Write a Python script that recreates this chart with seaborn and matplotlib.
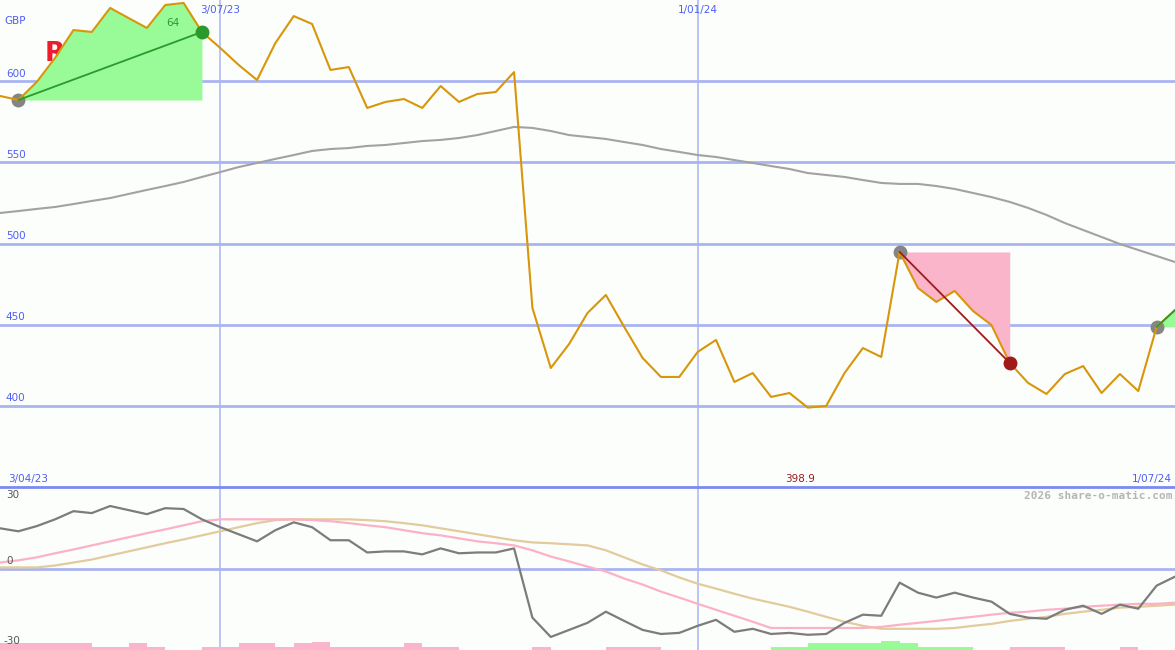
import numpy as np
import pandas as pd
import seaborn as sns
import matplotlib.pyplot as plt

# weekly closes, GBP
weeks = pd.date_range('2023-04-10', periods=65, freq='7D')
price = [590.9, 588.4, 599.5, 614.3, 631.5, 630.3, 645.1, 638.9, 632.8, 646.9,
         648.2, 630.3, 620.4, 610.0, 600.7, 623.5, 640.1, 635.2, 606.9, 608.7,
         583.5, 587.2, 589.0, 583.5, 597.0, 587.2, 592.1, 593.3, 605.6, 460.3,
         423.3, 438.1, 457.2, 468.3, 448.6, 429.5, 417.8, 417.8, 433.2, 440.6,
         414.7, 420.2, 405.5, 407.9, 398.9, 399.9, 420.2, 435.6, 430.1, 494.8,
         472.6, 464.0, 470.8, 458.4, 449.8, 426.4, 414.1, 407.3, 419.6, 424.5,
         407.9, 419.6, 409.1, 448.6, 459.0]
avg_line = [518.8, 520.0, 521.3, 522.5, 524.3, 526.2, 528.0, 530.5, 533.0, 535.4,
            537.9, 541.0, 544.0, 547.1, 549.6, 552.1, 554.5, 557.0, 558.2, 558.8,
            560.1, 560.7, 561.9, 563.1, 563.8, 565.0, 566.8, 569.3, 571.8, 571.2,
            569.3, 566.8, 565.6, 564.4, 562.5, 560.7, 558.2, 556.4, 554.5, 553.3,
            551.4, 549.6, 547.7, 545.9, 543.4, 542.2, 541.0, 539.1, 537.3, 536.7,
            536.7, 535.4, 533.6, 531.1, 528.6, 525.6, 521.9, 517.6, 512.6, 508.3,
            504.0, 499.7, 496.0, 492.3, 488.6]

# lower panel oscillators
osc = [14.8, 13.7, 15.6, 18.1, 21.1, 20.4, 23.0, 21.5, 20.0, 22.2,
       21.9, 18.1, 15.2, 12.6, 10.0, 14.1, 17.0, 15.2, 10.4, 10.4,
       5.9, 6.3, 6.3, 5.2, 7.4, 5.6, 5.9, 5.9, 7.4, -18.1,
       -25.2, -22.6, -20.0, -15.9, -19.3, -22.6, -24.1, -23.7, -21.1, -18.9,
       -23.3, -22.2, -24.1, -23.7, -24.4, -24.1, -20.0, -17.0, -17.4, -5.2,
       -8.9, -10.7, -8.9, -10.7, -12.2, -16.7, -18.1, -18.5, -15.2, -13.7,
       -16.7, -13.3, -14.8, -6.3, -3.0]
osc_fast = [2.2, 3.0, 4.1, 5.6, 7.0, 8.5, 10.0, 11.5, 13.0, 14.4,
            15.9, 17.4, 18.1, 18.1, 18.1, 18.1, 18.1, 17.8, 17.4, 16.7,
            15.9, 15.2, 14.1, 13.0, 12.2, 11.1, 10.0, 9.3, 8.5, 6.7,
            4.4, 2.6, 0.7, -1.1, -3.7, -5.9, -8.5, -10.7, -13.0, -15.2,
            -17.4, -19.6, -21.9, -21.9, -21.9, -21.9, -21.9, -21.9, -21.5, -20.7,
            -20.0, -19.3, -18.5, -17.8, -17.0, -16.3, -15.9, -15.2, -14.8, -14.1,
            -13.7, -13.3, -13.0, -13.0, -12.6]
osc_slow = [0.4, 0.4, 0.4, 1.1, 2.2, 3.3, 4.8, 6.3, 7.8, 9.3,
            10.7, 12.2, 13.7, 15.2, 16.7, 17.8, 18.1, 18.1, 18.1, 18.1,
            17.8, 17.4, 16.7, 15.9, 14.8, 13.7, 12.6, 11.5, 10.4, 9.6,
            9.3, 8.9, 8.5, 6.7, 4.1, 1.5, -0.7, -3.3, -5.6, -7.4,
            -9.3, -11.1, -12.6, -14.1, -15.9, -17.8, -19.6, -21.1, -22.2, -22.2,
            -22.2, -22.2, -21.9, -21.1, -20.4, -19.3, -18.5, -17.8, -16.7, -15.9,
            -15.2, -14.4, -14.1, -13.7, -13.3]
bar_pink = [2.6, 2.6, 2.6, 2.6, 2.6, 1.1, 1.1, 2.6, 1.1, 0,
            0, 1.1, 1.1, 2.6, 2.6, 1.1, 2.6, 3.0, 1.1, 1.1,
            1.1, 1.1, 2.6, 1.1, 1.1, 0, 0, 0, 0, 1.1,
            0, 0, 0, 1.1, 1.1, 1.1, 0, 0, 0, 0,
            0, 0, 0, 0, 0, 0, 0, 0, 0, 0,
            0, 0, 0, 0, 0, 1.1, 1.1, 1.1, 0, 0,
            0, 1.1, 0, 0, 0]
bar_green = [0] * 42 + [1.1, 1.1, 2.6, 2.6, 2.6, 2.6, 3.3, 2.6, 1.1, 1.1,
                        1.1] + [0] * 12

price_ticks = [400, 450, 500, 550, 600]
date_marks = pd.to_datetime(['2023-07-03', '2024-01-01'])
date_labels = ['3/07/23', '1/01/24']
# (start week, end week) of the highlighted moves
moves = [(1, 11), (49, 55), (63, 64)]

W, H = 1175, 650
grid_c = '#a9b5f3'
label_c = '#4f5ff2'

sns.set_theme(style='white')
plt.rcParams['font.family'] = ['DejaVu Sans']

fig = plt.figure(figsize=(W / 100, H / 100), dpi=100, facecolor='#fcfefc')
ax = fig.add_axes([0, 1 - 487 / H, 1, 487 / H])
ax2 = fig.add_axes([0, 0, 1, 163 / H])


def px(x, y):
    return x / W, 1 - y / H


for a in (ax, ax2):
    a.set_facecolor('#fcfefc')
    for s in a.spines.values():
        s.set_visible(False)
    a.set_xticks([])
    a.set_yticks([])
    a.set_xlim(weeks[0], weeks[-1])
    for d in date_marks:
        a.axvline(d, color=grid_c, lw=1.1, zorder=1)

ax.set_ylim(350, 650)
for t in price_ticks:
    ax.axhline(t, color=grid_c, lw=2, zorder=1)
    ax.text(0.005, t + 1.5, str(t), transform=ax.get_yaxis_transform(),
            color=label_c, fontsize=7.5, va='bottom', ha='left')
ax.text(0.004, 0.95, 'GBP', transform=ax.transAxes, color=label_c, fontsize=7.5)
for d, lab in zip(date_marks, date_labels):
    ax.text(d, 644, lab, color=label_c, fontsize=7.5, ha='center', va='center')

# name label, half hidden behind the first move
ax.text(weeks[2] + pd.Timedelta(days=3), 617, 'R', color='#ee1c2c', fontsize=19,
        fontweight='bold', ha='left', va='center', zorder=1.5)

sns.lineplot(x=weeks, y=avg_line, ax=ax, color='#a2a2a2', lw=1.5, zorder=3)

for a_i, b_i in moves:
    xs = weeks[a_i:b_i + 1]
    ys = price[a_i:b_i + 1]
    up = price[b_i] >= price[a_i]
    fill_c = '#98fb98' if up else '#fbb5ca'
    line_c = '#2a9a2a' if up else '#a11a1a'
    ax.fill_between(xs, ys, price[a_i], color=fill_c, lw=0, zorder=2)
    ax.plot(weeks[a_i], price[a_i], 'o', color='#858585', ms=9, zorder=2.5)
    ax.plot([weeks[a_i], weeks[b_i]], [price[a_i], price[b_i]],
            color=line_c, lw=1.3, zorder=5)
    if b_i < len(price) - 1:
        ax.plot(weeks[b_i], price[b_i], 'o', color=line_c, ms=9, zorder=6)

sns.lineplot(x=weeks, y=price, ax=ax, color='#d8960a', lw=1.5, zorder=4)
ax.text(weeks[9] + pd.Timedelta(days=3), 633, '64', color='#2a9a2a',
        fontsize=7.5, ha='center', va='bottom')

lo = int(np.argmin(price))
fig.text(*px(800, 479), f'{price[lo]:.1f}', color='#a01c1c', fontsize=7.5,
         ha='center', va='center')
fig.text(*px(8, 479), '3/04/23', color=label_c, fontsize=7.5, va='center')
fig.text(*px(1172, 479), '1/07/24', color=label_c, fontsize=7.5,
         ha='right', va='center')

# lower panel
ax2.set_ylim(-30, 30)
ax2.axhline(0, color=grid_c, lw=2, zorder=1)
ax2.bar(weeks, bar_pink, width=7, bottom=-30, align='edge', color='#fbb5ca',
        lw=0, edgecolor='none', zorder=2)
ax2.bar(weeks, bar_green, width=7, bottom=-30, align='edge', color='#98fb98',
        lw=0, edgecolor='none', zorder=2)
sns.lineplot(x=weeks, y=osc_slow, ax=ax2, color='#e2cb9c', lw=1.6, zorder=3)
sns.lineplot(x=weeks, y=osc_fast, ax=ax2, color='#fbb2c6', lw=1.6, zorder=3)
sns.lineplot(x=weeks, y=osc, ax=ax2, color='#7c7c7c', lw=1.6, zorder=4)
fig.text(*px(6, 495), '30', color='#555555', fontsize=7.5, va='center')
fig.text(*px(6, 561), '0', color='#555555', fontsize=7.5, va='center')
fig.text(*px(4, 641), '-30', color='#555555', fontsize=7.5, va='center')
fig.text(*px(1172, 496), '2026 share-o-matic.com', color='#b5b5b5',
         fontsize=8, family='DejaVu Sans Mono', fontweight='bold',
         ha='right', va='center')

# border between the panels
fig.add_artist(plt.Line2D([0, 1], [1 - 487 / H] * 2, color='#7b89f2', lw=2))

fig.savefig('out.png', dpi=100, facecolor=fig.get_facecolor())
